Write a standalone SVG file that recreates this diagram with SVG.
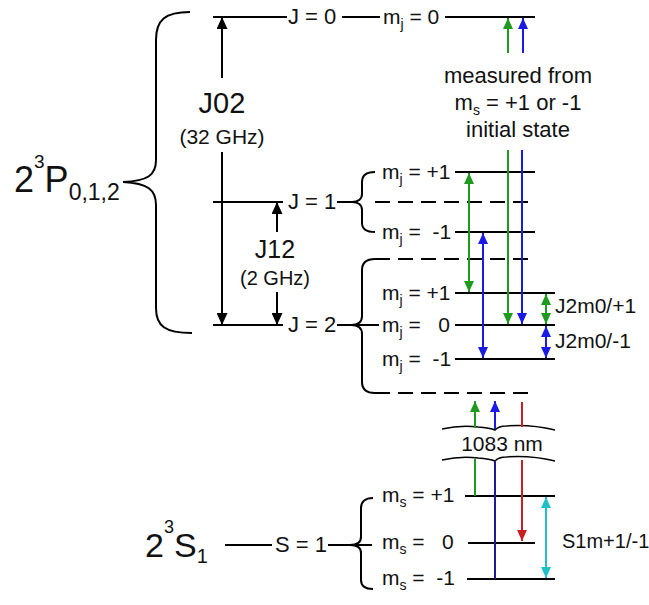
<svg xmlns="http://www.w3.org/2000/svg" width="649" height="605" viewBox="0 0 649 605">
<style>
text { font-family: "Liberation Sans", Arial, sans-serif; fill: #111; }
.lvl { font-size: 21px; }
.jl { font-size: 22px; }
.msr { font-size: 22px; }
.sb { font-size: 14px; }
.ln { stroke: #000; stroke-width: 2; fill: none; }
.dash { stroke-dasharray: 15 8; }
.br { stroke: #000; stroke-width: 2; fill: none; }
.k { stroke: #000; stroke-width: 2; fill: none; }
.g { stroke: #1e9a1e; stroke-width: 2; fill: none; }
.b { stroke: #1a1ae6; stroke-width: 2; fill: none; }
.n { stroke: #1c1c96; stroke-width: 2; fill: none; }
.r { stroke: #c82020; stroke-width: 2; fill: none; }
.c { stroke: #20c0c8; stroke-width: 2; fill: none; }
.wv { stroke: #000; stroke-width: 1.5; fill: none; }
</style>
<defs>
<marker id="ak" viewBox="0 0 12 11" refX="12" refY="5.5" markerWidth="12" markerHeight="11" markerUnits="userSpaceOnUse" orient="auto-start-reverse"><path d="M0,0 L12,5.5 L0,11 z" fill="#000"/></marker>
<marker id="ag" viewBox="0 0 11 10" refX="11" refY="5" markerWidth="11" markerHeight="10" markerUnits="userSpaceOnUse" orient="auto-start-reverse"><path d="M0,0 L11,5 L0,10 z" fill="#1e9a1e"/></marker>
<marker id="ab" viewBox="0 0 11 10" refX="11" refY="5" markerWidth="11" markerHeight="10" markerUnits="userSpaceOnUse" orient="auto-start-reverse"><path d="M0,0 L11,5 L0,10 z" fill="#1a1ae6"/></marker>
<marker id="ar" viewBox="0 0 11 10" refX="11" refY="5" markerWidth="11" markerHeight="10" markerUnits="userSpaceOnUse" orient="auto-start-reverse"><path d="M0,0 L11,5 L0,10 z" fill="#c82020"/></marker>
<marker id="ac" viewBox="0 0 11 10" refX="11" refY="5" markerWidth="11" markerHeight="10" markerUnits="userSpaceOnUse" orient="auto-start-reverse"><path d="M0,0 L11,5 L0,10 z" fill="#20c0c8"/></marker>
</defs>

<g id="term-2P">
<path class="br" d="M190,12 C165,12 156,20 156,40 L156,160 C156,175 148,181 123,182 C148,183 156,190 156,205 L156,308 C156,326 165,333 192,333"/>
<text x="14" y="192" font-size="36">2<tspan font-size="19" dy="-24">3</tspan><tspan dy="24">P</tspan><tspan font-size="23" dy="8">0,1,2</tspan></text>
</g>

<g id="level-J0">
<path class="ln" d="M213,17 H287 M342,17 H380 M445,17 H535"/>
<text class="jl" x="288" y="24">J = 0</text>
<text class="lvl" x="383" y="24">m<tspan class="sb" dy="5">j</tspan><tspan dy="-5"> = 0</tspan></text>
</g>

<g id="level-J1">
<path class="ln" d="M213,202 H283 M337,202 H352"/>
<text class="jl" x="288" y="209">J = 1</text>
<path class="br" d="M375,172 C366,172 362,175 362,182 L362,194 C362,199 358,202 352,202 C358,202 362,205 362,210 L362,223 C362,229 366,232 375,232"/>
<path class="ln dash" d="M375,202 H535"/>
<path class="ln" d="M455,172 H535 M455,232 H535"/>
<text class="lvl" x="382" y="179" xml:space="preserve">m<tspan class="sb" dy="5">j</tspan><tspan dy="-5"> = +1</tspan></text>
<text class="lvl" x="382" y="239" xml:space="preserve">m<tspan class="sb" dy="5">j</tspan><tspan dy="-5"> =  -1</tspan></text>
</g>

<g id="level-J2">
<path class="ln" d="M213,325 H283 M337,325 H379"/>
<text class="jl" x="288" y="332">J = 2</text>
<path class="br" d="M375,259 C366,259 362,263 362,270 L362,316 C362,322 358,325 351,325 C358,325 362,328 362,334 L362,382 C362,389 366,393 375,393"/>
<path class="ln dash" d="M375,259 H535 M375,393 H535"/>
<path class="ln" d="M455,293 H555 M455,325 H555 M455,359 H555"/>
<text class="lvl" x="382" y="300" xml:space="preserve">m<tspan class="sb" dy="5">j</tspan><tspan dy="-5"> = +1</tspan></text>
<text class="lvl" x="382" y="332" xml:space="preserve">m<tspan class="sb" dy="5">j</tspan><tspan dy="-5"> =   0</tspan></text>
<text class="lvl" x="382" y="366" xml:space="preserve">m<tspan class="sb" dy="5">j</tspan><tspan dy="-5"> =  -1</tspan></text>
</g>

<g id="note-measured">
<text class="msr" x="518" y="83" text-anchor="middle">measured from</text>
<text class="msr" x="518" y="110" text-anchor="middle">m<tspan class="sb" dy="5">s</tspan><tspan dy="-5"> = +1 or -1</tspan></text>
<text class="msr" x="518" y="137" text-anchor="middle">initial state</text>
</g>

<g id="label-J02">
<text x="222" y="113" font-size="29" text-anchor="middle">J02</text>
<text x="222" y="144" font-size="21" text-anchor="middle">(32 GHz)</text>
</g>
<g id="label-J12">
<text x="275" y="258" font-size="25" text-anchor="middle">J12</text>
<text x="275" y="285" font-size="20" text-anchor="middle">(2 GHz)</text>
</g>

<g id="break-1083">
<path class="wv" d="M442,429 Q460,425 478,427 Q490,428 495,430 Q499,426 506,426 Q530,424 555,430"/>
<path class="wv" d="M442,460 Q460,456 478,458 Q490,459 495,461 Q499,457 506,457 Q530,455 555,461"/>
<text x="502" y="451" font-size="21" text-anchor="middle">1083 nm</text>
</g>

<g id="term-2S">
<text x="145" y="557" font-size="34">2<tspan font-size="18" dy="-24">3</tspan><tspan dy="24">S</tspan><tspan font-size="20" dy="6">1</tspan></text>
<path class="ln" d="M225,545 H272 M328,545 H372"/>
<text class="jl" x="275" y="552">S = 1</text>
<path class="br" d="M373,498 C365,498 361,502 361,508 L361,537 C361,542 357,545 350,545 C357,545 361,548 361,553 L361,580 C361,586 365,589 373,589"/>
<path class="ln" d="M465,496 H555 M468,543 H535 M467,579 H555"/>
<text class="lvl" x="382" y="502" xml:space="preserve">m<tspan class="sb" dy="5">s</tspan><tspan dy="-5"> = +1</tspan></text>
<text class="lvl" x="382" y="549" xml:space="preserve">m<tspan class="sb" dy="5">s</tspan><tspan dy="-5"> =   0</tspan></text>
<text class="lvl" x="382" y="585" xml:space="preserve">m<tspan class="sb" dy="5">s</tspan><tspan dy="-5"> =  -1</tspan></text>
</g>

<g id="labels-splitting">
<text x="555" y="313" font-size="21">J2m0/+1</text>
<text x="555" y="348" font-size="21">J2m0/-1</text>
<text x="562" y="548" font-size="20">S1m+1/-1</text>
</g>

<g id="connectors">
<path class="k" d="M222,78 V17" marker-end="url(#ak)"/>
<path class="k" d="M222,152 V325" marker-end="url(#ak)"/>
<path class="k" d="M277,232 V202" marker-end="url(#ak)"/>
<path class="k" d="M277,292 V325" marker-end="url(#ak)"/>

<path class="g" d="M508,53 V18" marker-end="url(#ag)"/>
<path class="b" d="M523,53 V18" marker-end="url(#ab)"/>
<path class="g" d="M508,150 V324" marker-end="url(#ag)"/>
<path class="b" d="M522,150 V324" marker-end="url(#ab)"/>
<path class="g" d="M469,173 V292" marker-start="url(#ag)" marker-end="url(#ag)"/>
<path class="b" d="M483,233 V358" marker-start="url(#ab)" marker-end="url(#ab)"/>
<path class="g" d="M546,294 V324" marker-start="url(#ag)" marker-end="url(#ag)"/>
<path class="b" d="M546,326 V358" marker-start="url(#ab)" marker-end="url(#ab)"/>

<path class="g" d="M475,428 V401" marker-end="url(#ag)"/>
<path class="b" d="M495,429 V401" marker-end="url(#ab)"/>
<path class="r" d="M522,402 V427"/>
<path class="g" d="M475,459 V496"/>
<path class="n" d="M495,461 V579"/>
<path class="r" d="M522,460 V541" marker-end="url(#ar)"/>
<path class="c" d="M546,497 V578" marker-start="url(#ac)" marker-end="url(#ac)"/>
</g>
</svg>
